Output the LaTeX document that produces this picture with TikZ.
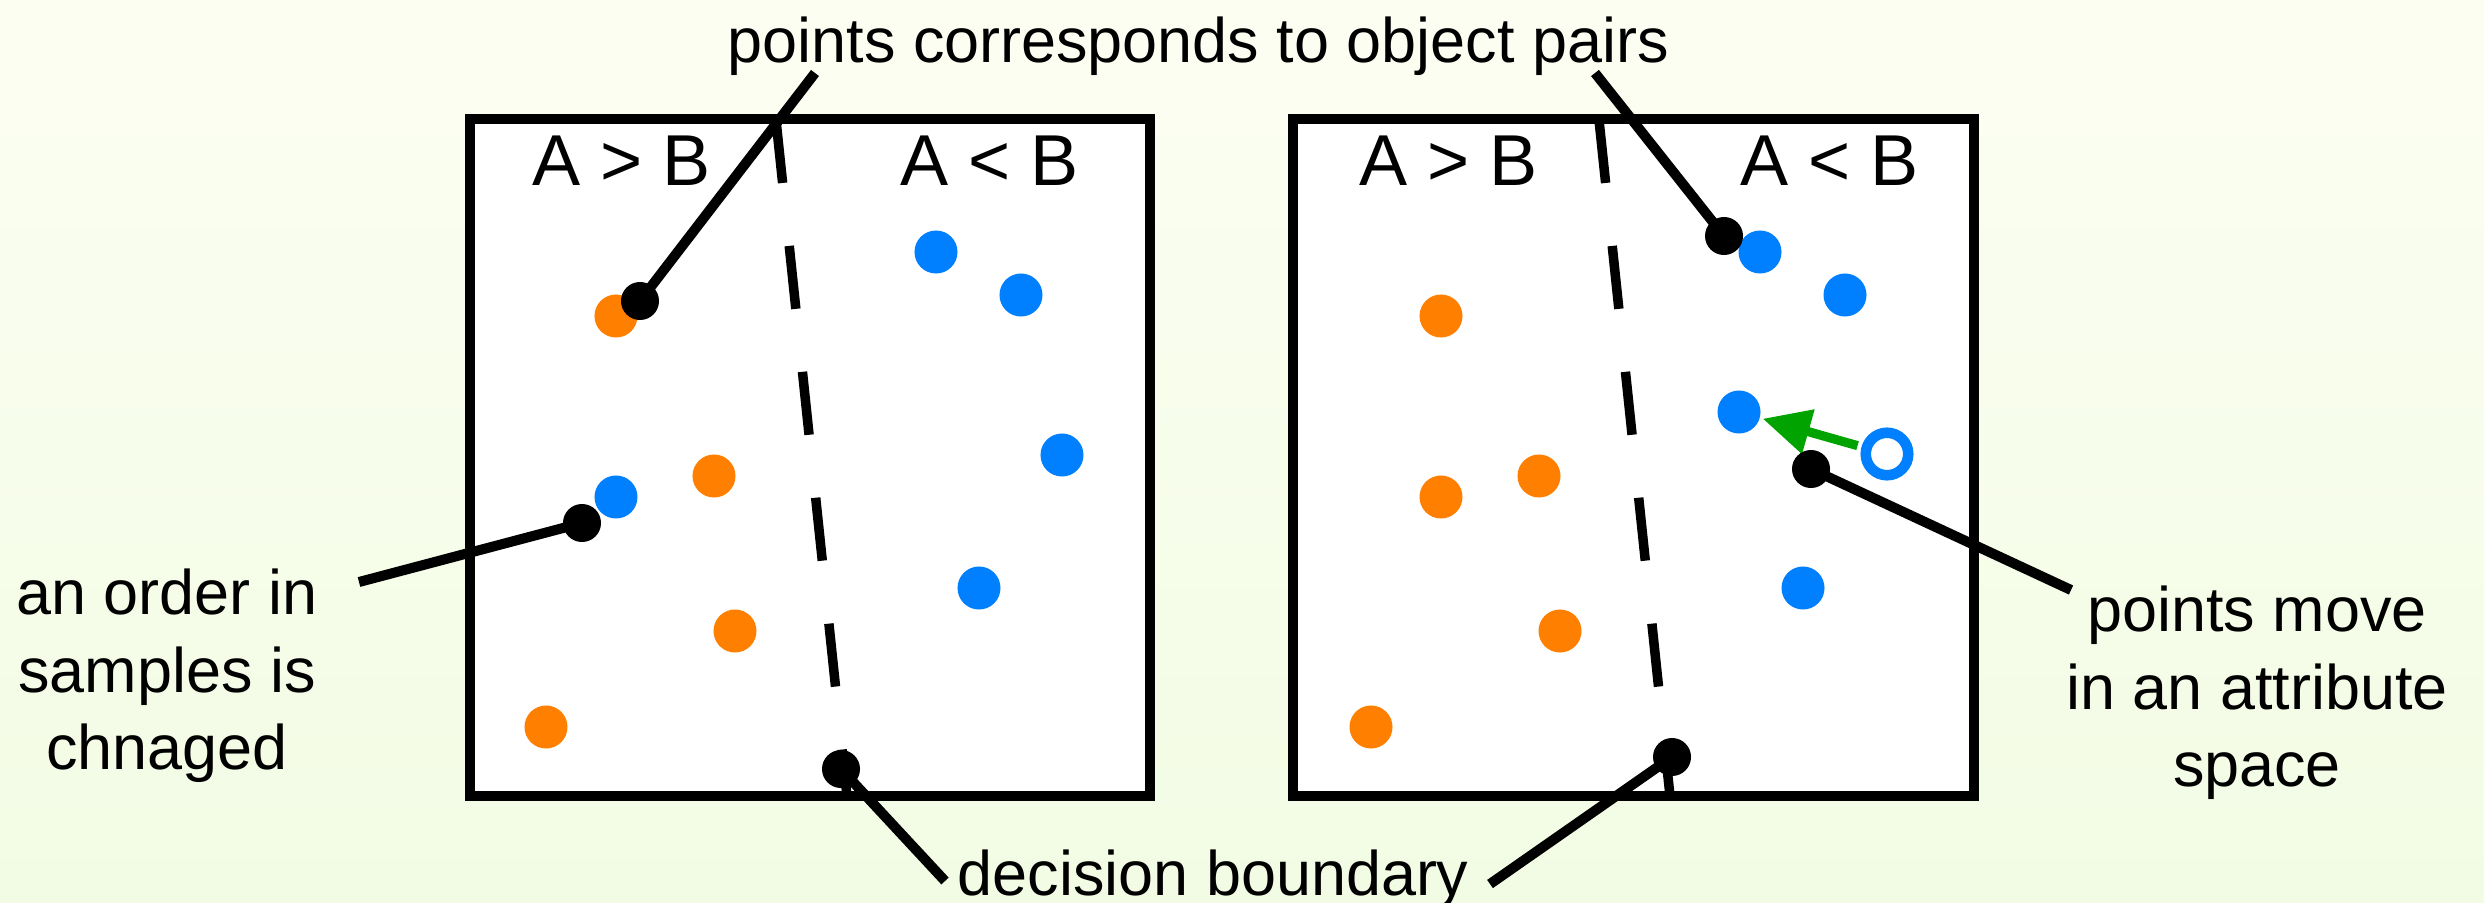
\documentclass[tikz,border=0pt]{standalone}
\usepackage{fontspec}
\setmainfont{Liberation Sans}
\usetikzlibrary{arrows.meta}
\definecolor{ptorange}{RGB}{255,128,0}
\definecolor{ptblue}{RGB}{0,128,255}
\definecolor{ptgreen}{RGB}{0,163,0}
\definecolor{bgtop}{RGB}{252,254,242}
\definecolor{bgbot}{RGB}{242,252,228}

\begin{document}
\begin{tikzpicture}[x=0.01cm, y=-0.01cm,
    lbl/.style={font=\fontsize{17.9}{22}\selectfont, align=center, inner sep=0pt},
    cmp/.style={font=\fontsize{20.5}{24}\selectfont, inner sep=0pt, anchor=base west},
    panel/.style={line width=2.7pt, draw=black, fill=white},
    bound/.style={line width=2.7pt, dash pattern=on 18pt off 18pt},
    pointer/.style={line width=2.85pt},
    tipdot/.style={fill=black}]
    \useasboundingbox (0,0) rectangle (2484,903);
    \shade[top color=bgtop, bottom color=bgbot] (0,0) rectangle (2484,903);

    \coordinate (pa) at (815,73);
    \coordinate (pb) at (1595,73);
    \coordinate (oa) at (359,582);
    \coordinate (ma) at (2071,590);
    \coordinate (ba) at (945,881);
    \coordinate (bb) at (1490,884);
    \coordinate (da) at (640,301);
    \coordinate (db) at (1724,236);
    \coordinate (dc) at (582,523);
    \coordinate (dd) at (1811,469);
    \coordinate (de) at (841,769);
    \coordinate (df) at (1672,757);
    \coordinate (old) at (1887,454);
    \coordinate (new) at (1739,412);

    \filldraw[panel] (470,119) rectangle (1150,796);
    \filldraw[panel] (1293,119) rectangle (1974,796);
    \draw[bound] (776,120) -- (847,796);
    \draw[bound] (1599,120) -- (1670,796);

    \node[cmp] (gtl) at (532,185) {A > B};
    \node[cmp] (ltl) at (900,185) {A < B};
    \node[cmp] (gtr) at (1359,185) {A > B};
    \node[cmp] (ltr) at (1740,185) {A < B};

    \foreach \p in {(616,316),(714,476),(735,631),(546,727),
                    (1441,316),(1441,497),(1539,476),(1560,631),(1371,727)}
        \fill[ptorange] \p circle (0.215cm);
    \foreach \p in {(616,497),(936,252),(1021,295),(1062,455),(979,588),
                    (1760,252),(1845,295),(1803,588)}
        \fill[ptblue] \p circle (0.215cm);
    \fill[ptblue] (new) circle (0.215cm);
    \draw[ptblue, line width=3pt] (old) circle (0.2125cm);
    \draw[ptgreen, line width=2.6pt, -{Triangle[length=13.5pt, width=12.5pt]},
          shorten <=8.7pt, shorten >=7pt] (old) -- (new);

    \node[lbl, anchor=base west] (pairs) at (727,62) {points corresponds to object pairs};
    \node[lbl] (order) at (167,676) {an order in\\samples is\\chnaged};
    \node[lbl] (move) at (2257,693) {points move\\in an attribute\\space};
    \node[lbl, anchor=base west] (bnd) at (957,895) {decision boundary};

    \draw[pointer] (pa) -- (da);
    \draw[pointer] (pb) -- (db);
    \draw[pointer] (oa) -- (dc);
    \draw[pointer] (ma) -- (dd);
    \draw[pointer] (ba) -- (de);
    \draw[pointer] (bb) -- (df);
    \foreach \d in {da,db,dc,dd,de,df}
        \fill[tipdot] (\d) circle (0.19cm);
\end{tikzpicture}
\end{document}
